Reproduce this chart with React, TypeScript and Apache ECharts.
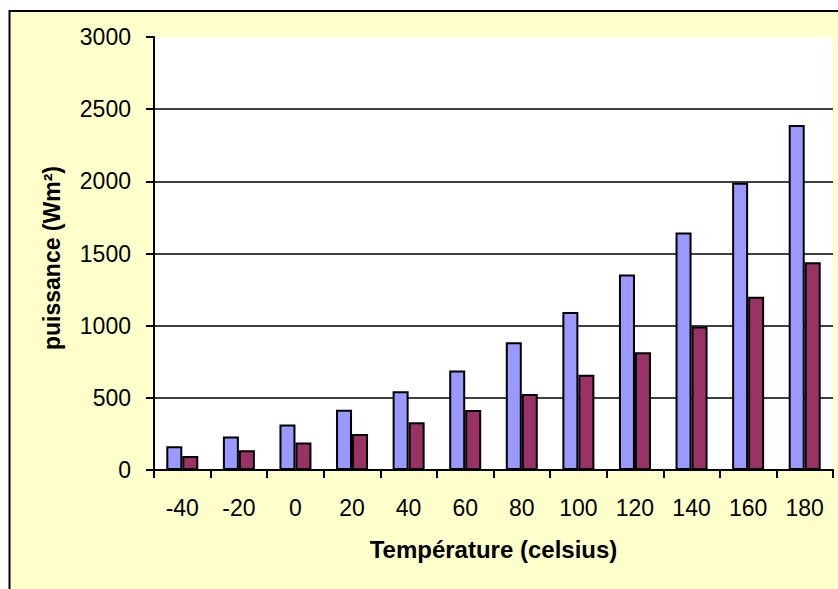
import React, { useEffect, useRef } from "react";
import * as echarts from "echarts";

// Temperature categories (°C)
const temperatures = ["-40", "-20", "0", "20", "40", "60", "80", "100", "120", "140", "160", "180"];
// Emitted power per series (W/m²)
const blackBodyPower = [165, 232, 315, 418, 545, 690, 885, 1095, 1355, 1645, 1990, 2390];
const greyBodyPower = [97, 137, 190, 250, 330, 415, 527, 660, 815, 995, 1200, 1440];
// Value axis range
const yMin = 0;
const yMax = 3000;
const yStep = 500;

const FONT = "'Liberation Sans', Arial, sans-serif";

export default function App() {
  const ref = useRef<HTMLDivElement>(null);

  useEffect(() => {
    if (!ref.current) return;
    const chart = echarts.init(ref.current, undefined, { renderer: "svg" });
    chart.setOption({
      animation: false,
      textStyle: { fontFamily: FONT },
      graphic: [
        {
          type: "rect",
          z: -10,
          silent: true,
          shape: { x: 9.5, y: 11, width: 840, height: 600 },
          style: { fill: "#FFFFCC", stroke: "#000", lineWidth: 2 },
        },
        {
          // Vertical value-axis title
          type: "text",
          x: 52,
          y: 258,
          rotation: Math.PI / 2,
          silent: true,
          style: {
            text: "puissance (Wm²)",
            fontFamily: FONT,
            fontSize: 23,
            fontWeight: "bold",
            fill: "#000",
            align: "center",
            verticalAlign: "middle",
          },
        },
      ],
      grid: {
        left: 154,
        right: 5,
        top: 37,
        bottom: 119,
        show: true,
        backgroundColor: "#ffffff",
        borderWidth: 0,
        containLabel: false,
      },
      xAxis: {
        type: "category",
        data: temperatures,
        name: "Température (celsius)",
        nameLocation: "middle",
        nameGap: 67,
        nameTextStyle: { fontFamily: FONT, fontSize: 24, fontWeight: "bold", color: "#000" },
        axisLine: { lineStyle: { color: "#000", width: 2 } },
        axisTick: { show: true, length: 8, lineStyle: { color: "#000", width: 2 } },
        axisLabel: { fontFamily: FONT, fontSize: 23, color: "#000", margin: 26 },
        splitLine: { show: false },
      },
      yAxis: {
        type: "value",
        min: yMin,
        max: yMax,
        interval: yStep,
        axisLine: { show: true, lineStyle: { color: "#000", width: 2 } },
        axisTick: { show: true, length: 8, lineStyle: { color: "#000", width: 2 } },
        axisLabel: {
          fontFamily: FONT,
          fontSize: 23,
          color: "#000",
          margin: 23,
          formatter: (v: number) => String(v),
        },
        splitLine: {
          show: true,
          showMinLine: false,
          showMaxLine: false,
          lineStyle: { color: "#000", width: 1.5 },
        },
      },
      series: [
        {
          name: "corps noir",
          type: "bar",
          data: blackBodyPower,
          barWidth: 16,
          barGap: "0%",
          itemStyle: { color: "#9999FF", borderColor: "#000", borderWidth: 2 },
        },
        {
          name: "corps gris",
          type: "bar",
          data: greyBodyPower,
          barWidth: 16,
          barGap: "0%",
          itemStyle: { color: "#993366", borderColor: "#000", borderWidth: 2 },
        },
      ],
    });
    return () => chart.dispose();
  }, []);

  return (
    <div
      ref={ref}
      style={{ position: "absolute", left: 0, top: 0, width: 838, height: 589, background: "#ffffff" }}
    />
  );
}
